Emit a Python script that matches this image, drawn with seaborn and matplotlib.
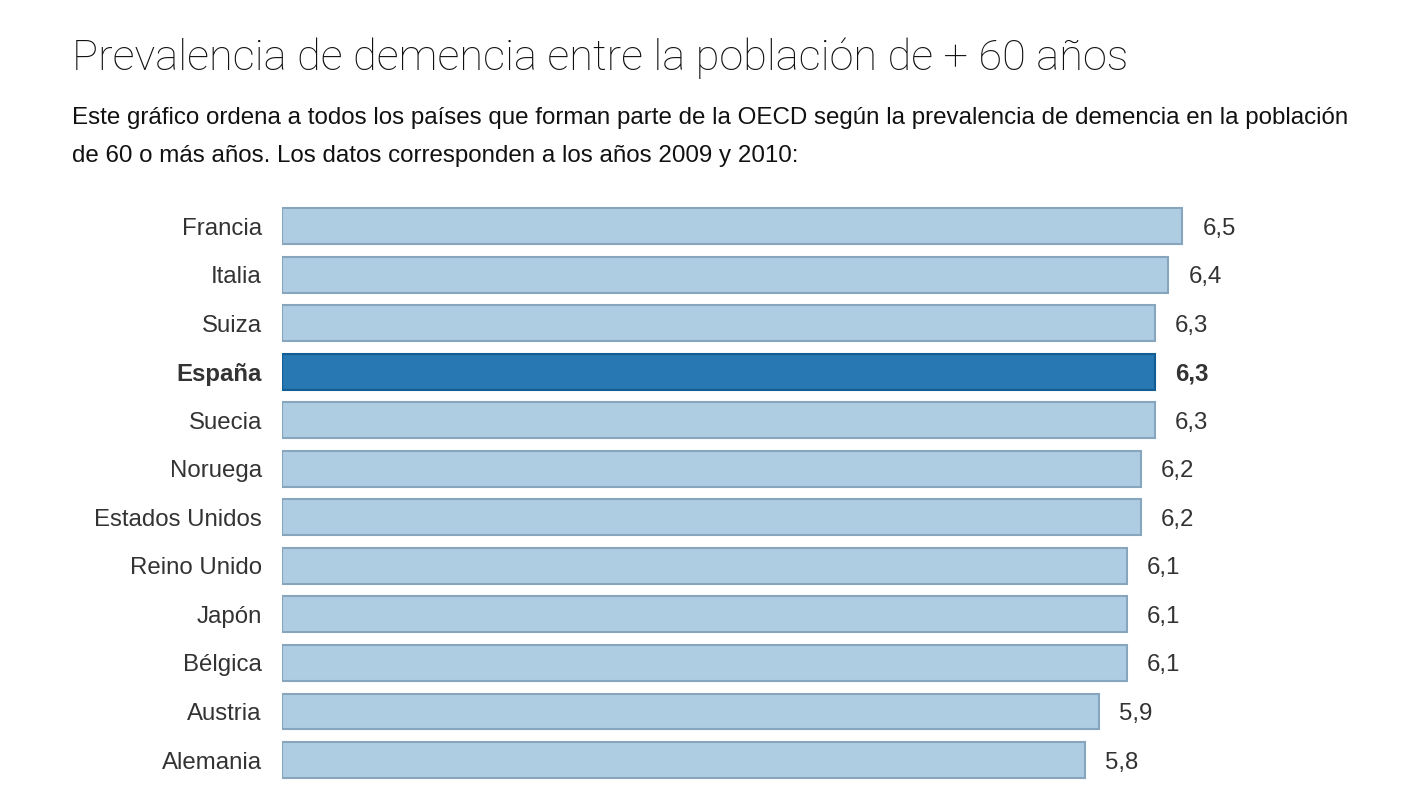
import pandas as pd
import matplotlib
matplotlib.use("Agg")
import matplotlib.pyplot as plt
import seaborn as sns

paises = ["Francia", "Italia", "Suiza", "España", "Suecia", "Noruega",
          "Estados Unidos", "Reino Unido", "Japón", "Bélgica", "Austria", "Alemania"]
valores = [6.5, 6.4, 6.3, 6.3, 6.3, 6.2, 6.2, 6.1, 6.1, 6.1, 5.9, 5.8]
destacado = "España"

data = pd.DataFrame({"pais": paises, "valor": valores})

sns.set_style("white")
plt.rcParams["font.family"] = ["Liberation Sans", "DejaVu Sans"]

fig = plt.figure(figsize=(14.22, 7.86), dpi=100)
ax = fig.add_axes([282 / 1422, 0.0022, (1293 - 282) / 1422, 0.741])

colores = ["#2778b3" if p == destacado else "#aecde3" for p in paises]
bordes = ["#135d93" if p == destacado else "#87a5bd" for p in paises]

sns.barplot(data=data, x="valor", y="pais", orient="h", ax=ax, saturation=1,
            hue="pais", palette=colores, legend=False, width=0.74, linewidth=1.5)
for patch, b in zip(ax.patches, bordes):
    patch.set_edgecolor(b)

ax.set_xlim(0, 1011 / 138.5)
ax.set_ylim(11.5, -0.5)
ax.set_xlabel("")
ax.set_ylabel("")
ax.set_xticks([])
sns.despine(ax=ax, left=True, bottom=True)
ax.tick_params(axis="y", length=0, pad=14.5, labelsize=17.3, labelcolor="#333333")
for lbl in ax.get_yticklabels():
    if lbl.get_text() == destacado:
        lbl.set_fontweight("bold")

# etiquetas de valor al final de cada barra
for i, (p, v) in enumerate(zip(paises, valores)):
    ax.text(v + 0.145, i, f"{v:.1f}".replace(".", ","), va="center_baseline", ha="left",
            fontsize=17.3, color="#333333",
            fontweight="bold" if p == destacado else "normal")

fig.text(72 / 1422, 1 - 70 / 786, "Prevalencia de demencia entre la población de + 60 años",
         fontsize=31.2, color="#111111", family=["Roboto", "DejaVu Sans"], fontweight="light",
         va="baseline")
fig.text(72 / 1422, 1 - 124 / 786,
         "Este gráfico ordena a todos los países que forman parte de la OECD según la prevalencia de demencia en la población",
         fontsize=17.35, color="#111111", va="baseline")
fig.text(72 / 1422, 1 - 162 / 786,
         "de 60 o más años. Los datos corresponden a los años 2009 y 2010:",
         fontsize=17.35, color="#111111", va="baseline")

fig.savefig("out.png", dpi=100, facecolor="white")
